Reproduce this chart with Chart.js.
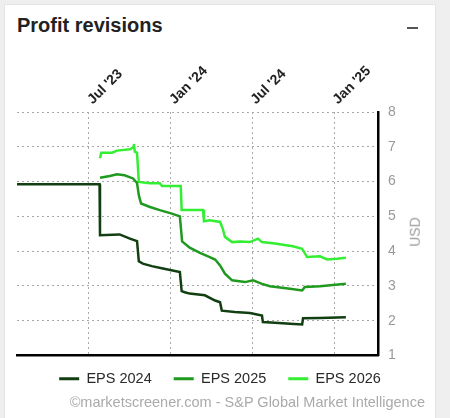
<!DOCTYPE html>
<html>
<head>
<meta charset="utf-8">
<script src="https://cdn.jsdelivr.net/npm/chart.js@4"></script>
<style>
  html, body { margin: 0; padding: 0; }
  body { width: 450px; height: 418px; background: #efefef; position: relative; overflow: hidden; font-family: "Liberation Sans", Arial, sans-serif; }
  .card { position: absolute; left: 4px; top: 4px; width: 432px; height: 420px; background: #fff; border: 1px solid #e4e4e4; box-sizing: border-box; }
  .title { position: absolute; left: 17px; top: 14px; font-size: 20px; font-weight: bold; color: #222; }
  .toggle { position: absolute; left: 407px; top: 27px; width: 11px; height: 2px; background: #555; }
  .usd { position: absolute; left: 400px; top: 224px; font-size: 14px; color: #999; transform: rotate(-90deg); transform-origin: center; }
  .credit { position: absolute; right: 25px; top: 394px; font-size: 14.5px; color: #aaa; }
  #wrap { position: absolute; left: 5px; top: 40px; width: 432px; height: 362px; }
</style>
</head>
<body>
<div class="card"></div>
<div class="title">Profit revisions</div>
<div class="toggle"></div>
<div id="wrap"><canvas id="chart"></canvas></div>
<div class="usd">USD</div>
<div class="credit">©marketscreener.com - S&amp;P Global Market Intelligence</div>
<script>
// x range and tick dates
const X_MIN = '2023-01-21';
const X_MAX = '2025-04-09';
const tickDates = ['2023-07-01', '2024-01-01', '2024-07-01', '2025-01-01'];
const tickLabels = ["Jul '23", "Jan '24", "Jul '24", "Jan '25"];

const eps2024Dates = ['2023-01-21', '2023-07-25', '2023-07-26', '2023-09-08', '2023-10-01', '2023-10-17', '2023-10-21', '2023-10-30',
  '2023-11-19', '2023-12-14', '2024-01-21', '2024-01-25', '2024-02-01', '2024-02-12', '2024-03-17', '2024-04-09', '2024-04-20',
  '2024-04-24', '2024-05-23', '2024-06-26', '2024-07-23', '2024-07-25', '2024-08-21', '2024-09-24', '2024-10-21', '2024-10-23',
  '2024-11-30', '2025-01-27'];
const eps2024Values = [5.92, 5.92, 4.46, 4.48, 4.36, 4.29, 3.71, 3.64,
  3.57, 3.50, 3.40, 2.85, 2.82, 2.78, 2.73, 2.58, 2.53,
  2.29, 2.25, 2.22, 2.15, 1.96, 1.94, 1.91, 1.89, 2.07,
  2.08, 2.10];

const eps2025Dates = ['2023-07-26', '2023-08-17', '2023-09-02', '2023-09-19', '2023-10-08', '2023-10-17', '2023-10-21', '2023-10-26',
  '2023-11-15', '2023-12-07', '2024-01-03', '2024-01-21', '2024-01-26', '2024-02-12', '2024-03-06', '2024-03-28', '2024-04-09',
  '2024-04-20', '2024-05-01', '2024-05-17', '2024-06-15', '2024-07-03', '2024-07-23', '2024-08-10', '2024-09-24', '2024-10-21',
  '2024-10-27', '2024-11-30', '2025-01-27'];
const eps2025Values = [6.11, 6.16, 6.21, 6.18, 6.09, 5.96, 5.61, 5.37,
  5.27, 5.18, 5.08, 5.00, 4.28, 4.10, 3.95, 3.83, 3.76,
  3.59, 3.35, 3.16, 3.11, 3.16, 3.06, 2.99, 2.92, 2.87,
  2.97, 2.99, 3.06];

const eps2026Dates = ['2023-07-26', '2023-07-29', '2023-08-22', '2023-09-02', '2023-10-01', '2023-10-08', '2023-10-10', '2023-10-12',
  '2023-10-17', '2023-10-21', '2023-11-15', '2023-12-07', '2023-12-12', '2024-01-23', '2024-01-25', '2024-03-13', '2024-03-15',
  '2024-03-28', '2024-04-20', '2024-04-26', '2024-05-01', '2024-05-17', '2024-06-04', '2024-06-26', '2024-07-14', '2024-07-23',
  '2024-08-21', '2024-09-30', '2024-10-21', '2024-11-01', '2024-11-30', '2024-12-16', '2025-01-07', '2025-01-27'];
const eps2026Values = [6.67, 6.83, 6.83, 6.89, 6.93, 6.98, 7.08, 6.86,
  6.83, 5.99, 5.95, 5.95, 5.87, 5.87, 5.18, 5.18, 4.86,
  4.89, 4.84, 4.65, 4.41, 4.26, 4.28, 4.26, 4.36, 4.26,
  4.22, 4.14, 4.07, 3.83, 3.85, 3.76, 3.78, 3.81];

const COLORS = { eps2024: '#123f12', eps2025: '#1f9a1f', eps2026: '#33ee33', grid: '#a8a8a8', tick: '#999' };
const FONT = '"Liberation Sans", Arial, sans-serif';

const toPoints = (dates, values) => dates.map((d, i) => ({ x: Date.parse(d), y: values[i] }));

const series = (label, dates, values, color) => ({
  label, data: toPoints(dates, values), borderColor: color, backgroundColor: color,
  borderWidth: 2.5, pointRadius: 0, tension: 0
});

// the legend sits a bit higher and further left than Chart.js centres it
const legendNudge = { id: 'legendNudge', afterLayout(chart) {
  const lg = chart.legend;
  lg.top -= 6; lg.bottom -= 6; lg.left -= 7; lg.right -= 7;
} };

new Chart(document.getElementById('chart'), {
  type: 'line',
  data: {
    datasets: [
      series('EPS 2024', eps2024Dates, eps2024Values, COLORS.eps2024),
      series('EPS 2025', eps2025Dates, eps2025Values, COLORS.eps2025),
      series('EPS 2026', eps2026Dates, eps2026Values, COLORS.eps2026)
    ]
  },
  options: {
    responsive: true,
    maintainAspectRatio: false,
    animation: false,
    layout: { padding: { left: 12, right: 0, top: 0, bottom: 0 } },
    plugins: {
      tooltip: { enabled: false },
      legend: {
        position: 'bottom',
        labels: {
          boxWidth: 20, boxHeight: 3, padding: 22, color: '#2a2a2a',
          font: { family: FONT, size: 14.5 },
          generateLabels: chart => Chart.defaults.plugins.legend.labels.generateLabels(chart)
            .map(l => ({ ...l, lineWidth: 0 }))
        }
      }
    },
    scales: {
      x: {
        type: 'linear', position: 'top',
        min: Date.parse(X_MIN), max: Date.parse(X_MAX),
        afterBuildTicks: s => { s.ticks = tickDates.map(d => ({ value: Date.parse(d) })); },
        afterFit: s => { s.height = 72; },
        ticks: {
          minRotation: 45, maxRotation: 45, padding: 4, labelOffset: 13, color: '#222',
          font: { family: FONT, size: 14, weight: 'bold' },
          callback: v => tickLabels[tickDates.findIndex(d => Date.parse(d) === v)]
        },
        grid: { color: COLORS.grid, lineWidth: 1, drawTicks: false },
        border: { display: false, dash: [2, 3] }
      },
      x2: {
        type: 'linear', position: 'bottom', min: Date.parse(X_MIN), max: Date.parse(X_MAX),
        afterFit: s => { s.height = 0; },
        ticks: { display: false },
        grid: { display: false, drawTicks: false },
        border: { display: true, color: '#000', width: 2.5 }
      },
      y: {
        position: 'right', min: 1, max: 8,
        afterFit: s => { s.width = 59; },
        ticks: {
          stepSize: 1, padding: 10, color: COLORS.tick,
          font: { family: FONT, size: 14 }
        },
        grid: { color: COLORS.grid, lineWidth: 1, drawTicks: false },
        border: { display: true, color: '#000', width: 2.5, dash: [2, 3] }
      }
    }
  },
  plugins: [legendNudge]
});
</script>
</body>
</html>
